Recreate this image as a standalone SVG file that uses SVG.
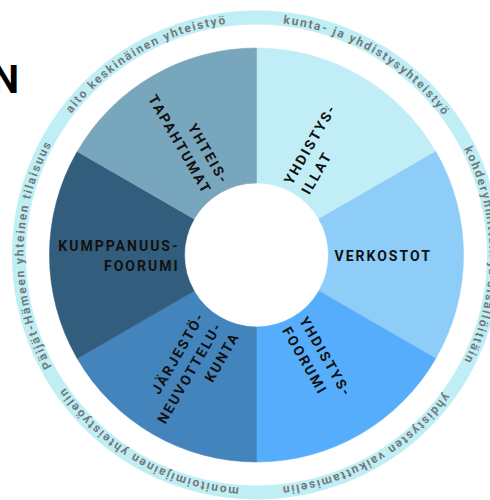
<svg xmlns="http://www.w3.org/2000/svg" xmlns:xlink="http://www.w3.org/1999/xlink" width="490" height="500" viewBox="0 0 490 500">
<style>
.lbl{font-family:Roboto,"Liberation Sans",sans-serif;font-weight:700;font-size:14px;letter-spacing:2px;fill:#111}
.ring{font-family:Roboto,"Liberation Sans",sans-serif;font-weight:700;font-size:12px;letter-spacing:1.7px;fill:#737a7c}
.title{font-family:Roboto,"Liberation Sans",sans-serif;font-weight:700;font-size:39px;fill:#000}
.sec{stroke-width:0.6}
</style>
<defs>
<path id="ringPath" d="M256.5,488 A233,233 0 1 1 256.5,22 A233,233 0 1 1 256.5,488"/>
</defs>
<rect width="490" height="500" fill="#fff"/>
<text class="title" x="19" y="93" text-anchor="end">N</text>
<g id="ring">
<circle cx="256.5" cy="255" r="237.5" fill="none" stroke="#c0eef5" stroke-width="14"/>
<text class="ring"><textPath xlink:href="#ringPath" href="#ringPath" startOffset="122" text-anchor="middle">monitoimijainen yhteistyöelin</textPath></text>
<text class="ring"><textPath xlink:href="#ringPath" href="#ringPath" startOffset="366" text-anchor="middle">Päijät-Hämeen yhteinen tilaisuus</textPath></text>
<text class="ring"><textPath xlink:href="#ringPath" href="#ringPath" startOffset="610" text-anchor="middle">aito keskinäinen yhteistyö</textPath></text>
<text class="ring"><textPath xlink:href="#ringPath" href="#ringPath" startOffset="854" text-anchor="middle">kunta- ja yhdistysyhteistyö</textPath></text>
<text class="ring"><textPath xlink:href="#ringPath" href="#ringPath" startOffset="1098" text-anchor="middle">kohderyhmittäin ja sisällöittäin</textPath></text>
<text class="ring"><textPath xlink:href="#ringPath" href="#ringPath" startOffset="1342" text-anchor="middle">yhdistysten vaikuttamiselin</textPath></text>
</g>
<g id="connectors"></g>
<g id="yhdistysillat">
<path class="sec" d="M256.5,48 A207,207 0 0 1 435.77,151.5 L318.85,219 A72,72 0 0 0 256.5,183 Z" fill="#c1eef6" stroke="#c1eef6"/>
<g transform="translate(256.5 255) rotate(-60)"><text class="lbl" x="78" y="-4">YHDISTYS-</text><text class="lbl" x="78" y="16">ILLAT</text></g>
</g>
<g id="verkostot">
<path class="sec" d="M435.77,151.5 A207,207 0 0 1 435.77,358.5 L318.85,291 A72,72 0 0 0 318.85,219 Z" fill="#8dcdf8" stroke="#8dcdf8"/>
<g transform="translate(256.5 255)"><text class="lbl" x="78" y="6">VERKOSTOT</text></g>
</g>
<g id="yhdistysfoorumi">
<path class="sec" d="M435.77,358.5 A207,207 0 0 1 256.5,462 L256.5,327 A72,72 0 0 0 318.85,291 Z" fill="#55adfc" stroke="#55adfc"/>
<g transform="translate(256.5 255) rotate(60)"><text class="lbl" x="78" y="-4">YHDISTYS-</text><text class="lbl" x="78" y="16">FOORUMI</text></g>
</g>
<g id="jarjestoneuvottelukunta">
<path class="sec" d="M256.5,462 A207,207 0 0 1 77.23,358.5 L194.15,291 A72,72 0 0 0 256.5,327 Z" fill="#4484bd" stroke="#4484bd"/>
<g transform="translate(256.5 255) rotate(-60)" text-anchor="end"><text class="lbl" x="-78" y="-14">JÄRJESTÖ-</text><text class="lbl" x="-78" y="6">NEUVOTTELU-</text><text class="lbl" x="-78" y="26">KUNTA</text></g>
</g>
<g id="kumppanuusfoorumi">
<path class="sec" d="M77.23,358.5 A207,207 0 0 1 77.23,151.5 L194.15,219 A72,72 0 0 0 194.15,291 Z" fill="#335d7c" stroke="#335d7c"/>
<g transform="translate(256.5 255)" text-anchor="end"><text class="lbl" x="-77" y="-4">KUMPPANUUS-</text><text class="lbl" x="-77" y="16">FOORUMI</text></g>
</g>
<g id="yhteistapahtumat">
<path class="sec" d="M77.23,151.5 A207,207 0 0 1 256.5,48 L256.5,183 A72,72 0 0 0 194.15,219 Z" fill="#78a6bc" stroke="#78a6bc"/>
<g transform="translate(256.5 255) rotate(60)" text-anchor="end"><text class="lbl" x="-78" y="-4">YHTEIS-</text><text class="lbl" x="-78" y="16">TAPAHTUMAT</text></g>
</g>
</svg>
